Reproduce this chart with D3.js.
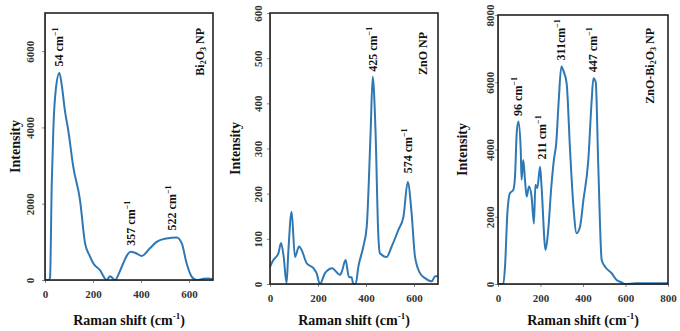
<!DOCTYPE html>
<html>
<head>
<meta charset="utf-8">
<script src="https://cdn.jsdelivr.net/npm/d3@7"></script>
<style>
  body { margin: 0; background: #fff; }
  text { font-family: "Liberation Serif", "Times New Roman", serif; font-weight: bold; }
</style>
</head>
<body>
<svg id="chart" width="680" height="331"></svg>
<script>
// Bi2O3 NP spectrum
const biShift = [0, 15, 21, 28, 35, 45, 60, 70, 83, 97, 118, 146, 167, 185, 201, 229, 257, 271, 292, 310, 326, 345, 357, 380, 403, 437, 465, 507, 549, 570, 590, 611, 632, 660, 680, 700];
const biInt   = [0, 0, 60, 2500, 4000, 5000, 5430, 5100, 4440, 3920, 2960, 2090, 960, 650, 440, 260, 0, 100, 0, 200, 440, 680, 740, 700, 630, 830, 1000, 1090, 1115, 960, 440, 90, 0, 30, 40, 20];

// ZnO NP spectrum
const znoShift = [0, 14, 35, 46, 57, 69, 76, 90, 104, 121, 132, 153, 181, 194, 208, 229, 260, 271, 292, 299, 315, 329, 340, 347, 357, 368, 389, 403, 419, 428, 440, 451, 458, 486, 507, 535, 556, 574, 590, 604, 625, 646, 674, 688, 700];
const znoInt   = [38, 53, 68, 91, 60, 2, 68, 160, 60, 83, 75, 46, 35, 24, 0, 24, 35, 30, 20, 27, 53, 15, 15, 0, 0, 38, 83, 127, 333, 459, 333, 112, 68, 60, 83, 120, 149, 226, 157, 61, 24, 13, 6, 17, 17];

// ZnO-Bi2O3 NP spectrum
const mixShift = [0, 25, 33, 44, 56, 72, 80, 88, 96, 107, 111, 119, 127, 135, 146, 158, 169, 176, 185, 198, 204, 224, 235, 251, 263, 274, 286, 298, 310, 323, 339, 355, 370, 386, 402, 425, 441, 449, 460, 472, 488, 504, 535, 558, 581, 597, 650, 800];
const mixInt   = [0, 0, 515, 2100, 2700, 2800, 3190, 4480, 4830, 3990, 3100, 3690, 3100, 2600, 2900, 2600, 1800, 2950, 2850, 3490, 3000, 1010, 1510, 2900, 3690, 4190, 5480, 6470, 6300, 5970, 3990, 2300, 1510, 1700, 2500, 3690, 5480, 6120, 6000, 3490, 715, 515, 320, 120, 50, 0, 20, 20];

// peak labels
const biPeaks  = [["54", 57, 5600], ["357", 360, 900], ["522", 530, 1300]];
const znoPeaks = [["425", 428, 470], ["574", 576, 245]];
const mixPeaks = [["96", 96, 5000], ["211", 206, 3700], ["311", 298, 6650], ["447", 449, 6300]];

const xTicks700 = [0, 200, 400, 600];
const xTicks800 = [0, 200, 400, 600, 800];

const panels = [
  { left: 45, right: 213, top: 13, bottom: 280, xMax: 700, yMax: 7000,
    xTicks: xTicks700, yTicks: [0, 2000, 4000, 6000],
    xs: biShift, ys: biInt, peaks: biPeaks, name: ["Bi", "2", "O", "3", " NP"],
    nameX: 200, nameY: 28, yTitleX: 15, yTickX: 30 },
  { left: 270, right: 438, top: 13, bottom: 284, xMax: 700, yMax: 600,
    xTicks: xTicks700, yTicks: [0, 100, 200, 300, 400, 500, 600],
    xs: znoShift, ys: znoInt, peaks: znoPeaks, name: ["ZnO NP"],
    nameX: 423, nameY: 32, yTitleX: 235, yTickX: 258 },
  { left: 498, right: 668, top: 15, bottom: 284, xMax: 800, yMax: 8000,
    xTicks: xTicks800, yTicks: [0, 2000, 4000, 6000, 8000],
    xs: mixShift, ys: mixInt, peaks: mixPeaks, name: ["ZnO-Bi", "2", "O", "3", " NP"],
    nameX: 650, nameY: 28, yTitleX: 462, yTickX: 490 }
];

const svg = d3.select("#chart");
const lineColor = "#2f78b4";

panels.forEach(p => {
  const x = d3.scaleLinear().domain([0, p.xMax]).range([p.left, p.right]);
  const y = d3.scaleLinear().domain([0, p.yMax]).range([p.bottom, p.top]);
  const g = svg.append("g");

  // axes
  const xAxis = g.append("g")
    .attr("transform", `translate(0,${p.bottom})`)
    .call(d3.axisBottom(x).tickValues(p.xTicks).tickFormat(d3.format("d")).tickSize(3).tickSizeOuter(0));
  xAxis.selectAll("text").attr("font-size", 11).attr("fill", "#333").attr("dy", "1.1em")
    .style("font-family", "Liberation Serif").style("font-weight", "bold");

  const yAxis = g.append("g")
    .attr("transform", `translate(${p.left},0)`)
    .call(d3.axisLeft(y).tickValues(p.yTicks).tickFormat(d3.format("d")).tickSize(3).tickSizeOuter(0));
  yAxis.selectAll("text")
    .attr("font-size", 11).attr("fill", "#333")
    .attr("x", 0).attr("y", 0).attr("dy", null)
    .attr("text-anchor", "middle")
    .attr("transform", `translate(${p.yTickX - p.left + 4},0) rotate(-90)`)
    .style("font-family", "Liberation Serif").style("font-weight", "bold");
  g.selectAll(".domain").attr("stroke", "#999");
  g.selectAll(".tick line").attr("stroke", "#888");

  // spectrum
  const pts = p.xs.map((v, i) => [v, p.ys[i]]);
  g.append("path")
    .datum(pts)
    .attr("fill", "none")
    .attr("stroke", lineColor)
    .attr("stroke-width", 2)
    .attr("stroke-linejoin", "round")
    .attr("d", d3.line().x(d => x(d[0])).y(d => y(d[1])).curve(d3.curveMonotoneX));

  // frame
  g.append("rect")
    .attr("x", p.left).attr("y", p.top)
    .attr("width", p.right - p.left).attr("height", p.bottom - p.top)
    .attr("fill", "none").attr("stroke", "#222").attr("stroke-width", 1.6);

  // peak labels
  p.peaks.forEach(([lab, px, py]) => {
    const t = g.append("text")
      .attr("transform", `translate(${x(px) + 4},${y(py)}) rotate(-90)`)
      .attr("font-size", 12).attr("fill", "#111");
    t.append("tspan").text(lab + (lab === "311" ? "cm" : " cm"));
    t.append("tspan").attr("font-size", 8).attr("dy", -5).text("\u22121");
  });

  // sample name
  const nm = g.append("text")
    .attr("transform", `translate(${p.nameX + 4},${p.nameY}) rotate(-90)`)
    .attr("text-anchor", "end").attr("font-size", 12).attr("fill", "#111");
  p.name.forEach((s, i) => {
    const sub = s === "2" || s === "3";
    const prevSub = i > 0 && (p.name[i - 1] === "2" || p.name[i - 1] === "3");
    nm.append("tspan")
      .attr("font-size", sub ? 8 : 12)
      .attr("dy", sub ? 2 : (prevSub ? -2 : 0))
      .text(s);
  });

  // axis titles
  g.append("text")
    .attr("transform", `translate(${p.yTitleX + 5},${(p.top + p.bottom) / 2}) rotate(-90)`)
    .attr("text-anchor", "middle").attr("font-size", 14).attr("fill", "#111")
    .text("Intensity");

  const xt = g.append("text")
    .attr("x", (p.left + p.right) / 2).attr("y", 325)
    .attr("text-anchor", "middle").attr("font-size", 14).attr("fill", "#111");
  xt.append("tspan").text("Raman shift (cm");
  xt.append("tspan").attr("font-size", 9).attr("dy", -6).text("-1");
  xt.append("tspan").attr("dy", 6).text(")");
});
</script>
</body>
</html>
